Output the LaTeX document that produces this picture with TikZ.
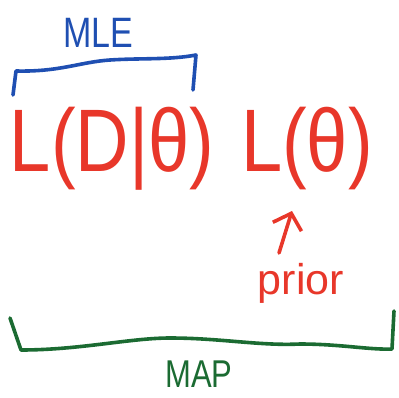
\documentclass[tikz,border=0pt]{standalone}
\usepackage{fontspec}
\setmainfont{Liberation Sans}
\usetikzlibrary{arrows.meta,positioning}
\definecolor{inkred}{HTML}{E8372A}
\definecolor{inkblue}{HTML}{1F4FB2}
\definecolor{inkgreen}{HTML}{1B6B32}
\tikzset{
  pen/.style={line width=3.6pt, line cap=round, line join=round},
  word/.style={inner sep=0pt, anchor=center},
}
\begin{document}
\begin{tikzpicture}[x=1pt,y=-1pt]
    \useasboundingbox (0,0) rectangle (399,397);
    \node (lik) [word, text=inkred, yscale=1.2] at (112,149) {\fontsize{74}{74}\selectfont L(D|θ)};
    \node (pri) [word, text=inkred, yscale=1.2] at (307,149) {\fontsize{74}{74}\selectfont L(θ)};
    \node (mle) [word, text=inkblue, yscale=1.25] at (98,33) {\fontsize{34}{34}\selectfont MLE};
    \node (lab) [word, text=inkred] at (301,283) {\fontsize{43}{43}\selectfont prior};
    \node (map) [word, text=inkgreen, yscale=1.25] at (199,374) {\fontsize{31}{31}\selectfont MAP};
    \coordinate (tip) at (292,211);
    % brackets
    \draw[pen, inkblue] (13,95) -- (16,71) .. controls (60,72) and (80,62) .. (110,60)
        .. controls (140,58) and (170,60) .. (196,55) -- (193,90);
    \draw[pen, inkgreen] (10,318) -- (21,350) .. controls (80,350) and (130,338) .. (170,338)
        .. controls (220,338) and (260,346) .. (300,344)
        .. controls (340,344) and (370,350) .. (392,349) -- (394,311);
    % arrow to the prior term
    \draw[pen, inkred, -{Straight Barb[length=14pt, width=30pt]}] (279,253) -- (tip);
\end{tikzpicture}
\end{document}
